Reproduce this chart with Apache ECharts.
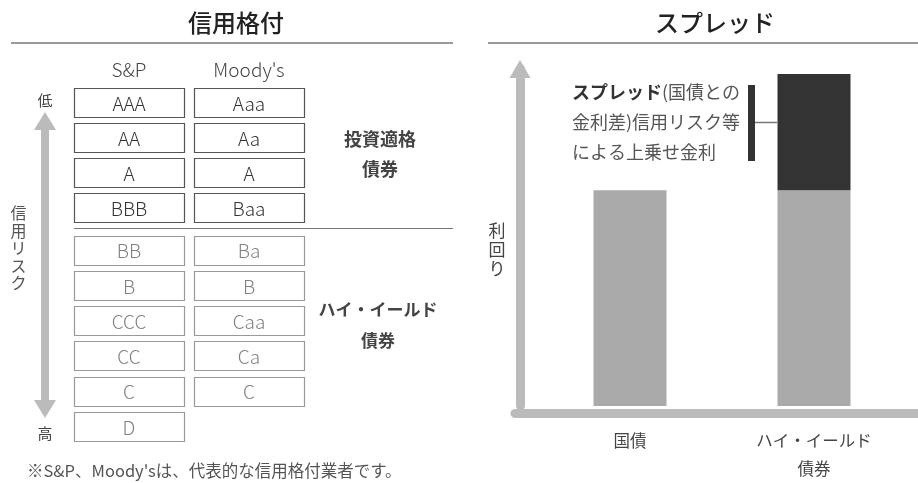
<!DOCTYPE html>
<html><head><meta charset="utf-8">
<script src="https://cdn.jsdelivr.net/npm/echarts@6/dist/echarts.min.js"></script>
<style>html,body{margin:0;padding:0;background:#fff}#c{width:918px;height:483px}</style>
</head><body><div id="c"></div>
<script>
// ---- data ----
const agencies = ['S&P', "Moody's"];
const spInvestment = ['AAA', 'AA', 'A', 'BBB'];
const moodysInvestment = ['Aaa', 'Aa', 'A', 'Baa'];
const spHighYield = ['BB', 'B', 'CCC', 'CC', 'C', 'D'];
const moodysHighYield = ['Ba', 'B', 'Caa', 'Ca', 'C'];
const bondCategories = ['国債', 'ハイ・イールド\n債券'];
const baseYield = [6.4, 6.4];
const spreadYield = [0, 3.45];

const FONT = '"Noto Sans CJK JP", "Noto Sans", sans-serif';
const chart = echarts.init(document.getElementById('c'), null, {renderer: 'canvas'});

function boxData(sp, moodys) {
  const d = [];
  sp.forEach((r, i) => d.push({value: [0, i], name: r}));
  moodys.forEach((r, i) => d.push({value: [1, i], name: r}));
  return d;
}
function boxSeries(xi, yi, data, border, textColor) {
  return {
    type: 'custom', xAxisIndex: xi, yAxisIndex: yi, silent: true, data: data,
    renderItem: function (params, api) {
      const c = api.coord([api.value(0), api.value(1)]);
      const x0 = Math.round(c[0] - 55) + 0.5, y0 = Math.round(c[1] - 14.5) + 0.5;
      return {
        type: 'group', children: [
          {type: 'rect', shape: {x: x0, y: y0, width: 110, height: 29},
           style: {fill: '#fff', stroke: border, lineWidth: 1.2}},
          {type: 'text', x: c[0], y: c[1] + 1,
           style: {text: data[params.dataIndex].name, fill: textColor, font: '300 19px ' + FONT,
                   textAlign: 'center', textVerticalAlign: 'middle'}}
        ]
      };
    }
  };
}

const option = {
  backgroundColor: '#fff',
  animation: false,
  textStyle: {fontFamily: FONT},
  title: [
    {text: '信用格付', left: 231, top: 6, textAlign: 'center', textStyle: {fontSize: 24, fontWeight: 500, color: '#222', fontFamily: FONT}},
    {text: 'スプレッド', left: 710, top: 6, textAlign: 'center', textStyle: {fontSize: 24, fontWeight: 500, color: '#222', fontFamily: FONT}}
  ],
  grid: [
    {left: 538, right: 12, top: 69, bottom: 70},
    {left: 515, right: 0, top: 69, bottom: 70},
    {left: 69, width: 240, top: 85, height: 140},
    {left: 69, width: 240, top: 232.35, height: 211.8},
    {left: 45, width: 10, top: 121, bottom: 74}
  ],
  xAxis: [
    {gridIndex: 0, type: 'category', data: bondCategories, axisLine: {show: false}, axisTick: {show: false},
     axisLabel: {color: '#444', fontSize: 16.5, margin: 21, lineHeight: 28, fontFamily: FONT}},
    {gridIndex: 1, type: 'value', offset: 4.5, axisLine: {show: true, lineStyle: {color: '#bbb', width: 9}},
     axisTick: {show: false}, axisLabel: {show: false}, splitLine: {show: false}},
    {gridIndex: 2, type: 'category', data: agencies, position: 'top', axisLine: {show: false}, axisTick: {show: false},
     axisLabel: {color: '#444', fontSize: 19, margin: 6, fontFamily: FONT, fontWeight: 300}},
    {gridIndex: 3, type: 'category', data: agencies, show: false},
    {gridIndex: 4, type: 'value', show: false}
  ],
  yAxis: [
    {gridIndex: 0, type: 'value', min: 0, max: 10, offset: 18,
     axisLine: {show: true, lineStyle: {color: '#bbb', width: 9}, symbol: ['none', 'triangle'], symbolSize: [21, 18]},
     axisTick: {show: false}, axisLabel: {show: false}, splitLine: {show: false}},
    {gridIndex: 1, type: 'value', show: false},
    {gridIndex: 2, type: 'category', data: spInvestment, inverse: true, show: false},
    {gridIndex: 3, type: 'category', data: spHighYield, inverse: true, show: false},
    {gridIndex: 4, type: 'value', min: 0, max: 1,
     axisLine: {show: true, lineStyle: {color: '#bbb', width: 8}, symbol: ['triangle', 'triangle'], symbolSize: [22, 18]},
     axisTick: {show: false}, axisLabel: {show: false}, splitLine: {show: false}}
  ],
  series: [
    {type: 'bar', xAxisIndex: 0, yAxisIndex: 0, stack: 'y', barWidth: 73, data: baseYield,
     itemStyle: {color: '#aaaaaa'}, silent: true},
    {type: 'bar', xAxisIndex: 0, yAxisIndex: 0, stack: 'y', barWidth: 73, data: spreadYield,
     itemStyle: {color: '#333333'}, silent: true},
    boxSeries(2, 2, boxData(spInvestment, moodysInvestment), '#555', '#333'),
    boxSeries(3, 3, boxData(spHighYield, moodysHighYield), '#999', '#808080')
  ],
  graphic: [
    {type: 'line', shape: {x1: 11, y1: 43, x2: 453, y2: 43}, style: {stroke: '#777', lineWidth: 1.5}},
    {type: 'line', shape: {x1: 488, y1: 43, x2: 918, y2: 43}, style: {stroke: '#777', lineWidth: 1.5}},
    {type: 'line', shape: {x1: 74, y1: 228.5, x2: 453, y2: 228.5}, style: {stroke: '#777', lineWidth: 1}},
    {type: 'text', x: 380, y: 154, style: {text: '投資適格\n債券', fill: '#444', font: 'bold 18px ' + FONT, textAlign: 'center', textVerticalAlign: 'middle', lineHeight: 30}},
    {type: 'text', x: 378, y: 325, style: {text: 'ハイ・イールド\n債券', fill: '#444', font: 'bold 17px ' + FONT, textAlign: 'center', textVerticalAlign: 'middle', lineHeight: 31}},
    {type: 'text', x: 45, y: 100, style: {text: '低', fill: '#444', font: '15px ' + FONT, textAlign: 'center', textVerticalAlign: 'middle'}},
    {type: 'text', x: 45, y: 433, style: {text: '高', fill: '#444', font: '15px ' + FONT, textAlign: 'center', textVerticalAlign: 'middle'}},
    {type: 'text', x: 18.5, y: 248, style: {text: '信\n用\nリ\nス\nク', fill: '#555', font: '16px ' + FONT, textAlign: 'center', textVerticalAlign: 'middle', lineHeight: 17.5}},
    {type: 'text', x: 27, y: 471, style: {text: "※S&P、Moody'sは、代表的な信用格付業者です。", fill: '#555', font: '16.5px ' + FONT, textVerticalAlign: 'middle'}},
    {type: 'text', x: 497, y: 250, style: {text: '利\n回\nり', fill: '#444', font: '17px ' + FONT, textAlign: 'center', textVerticalAlign: 'middle', lineHeight: 19}},
    {type: 'text', x: 572, y: 122, style: {
      text: '{b|スプレッド}(国債との\n金利差)信用リスク等\nによる上乗せ金利',
      fill: '#555', font: '18px ' + FONT, textVerticalAlign: 'middle', lineHeight: 30,
      rich: {b: {fontWeight: 'bold', fill: '#333', fontSize: 18, fontFamily: FONT, lineHeight: 30}}
    }},
    {type: 'rect', shape: {x: 748, y: 85, width: 7, height: 76}, style: {fill: '#333'}},
    {type: 'line', shape: {x1: 755, y1: 122.5, x2: 777, y2: 122.5}, style: {stroke: '#777', lineWidth: 1.5}}
  ]
};
chart.setOption(option);
</script></body></html>
